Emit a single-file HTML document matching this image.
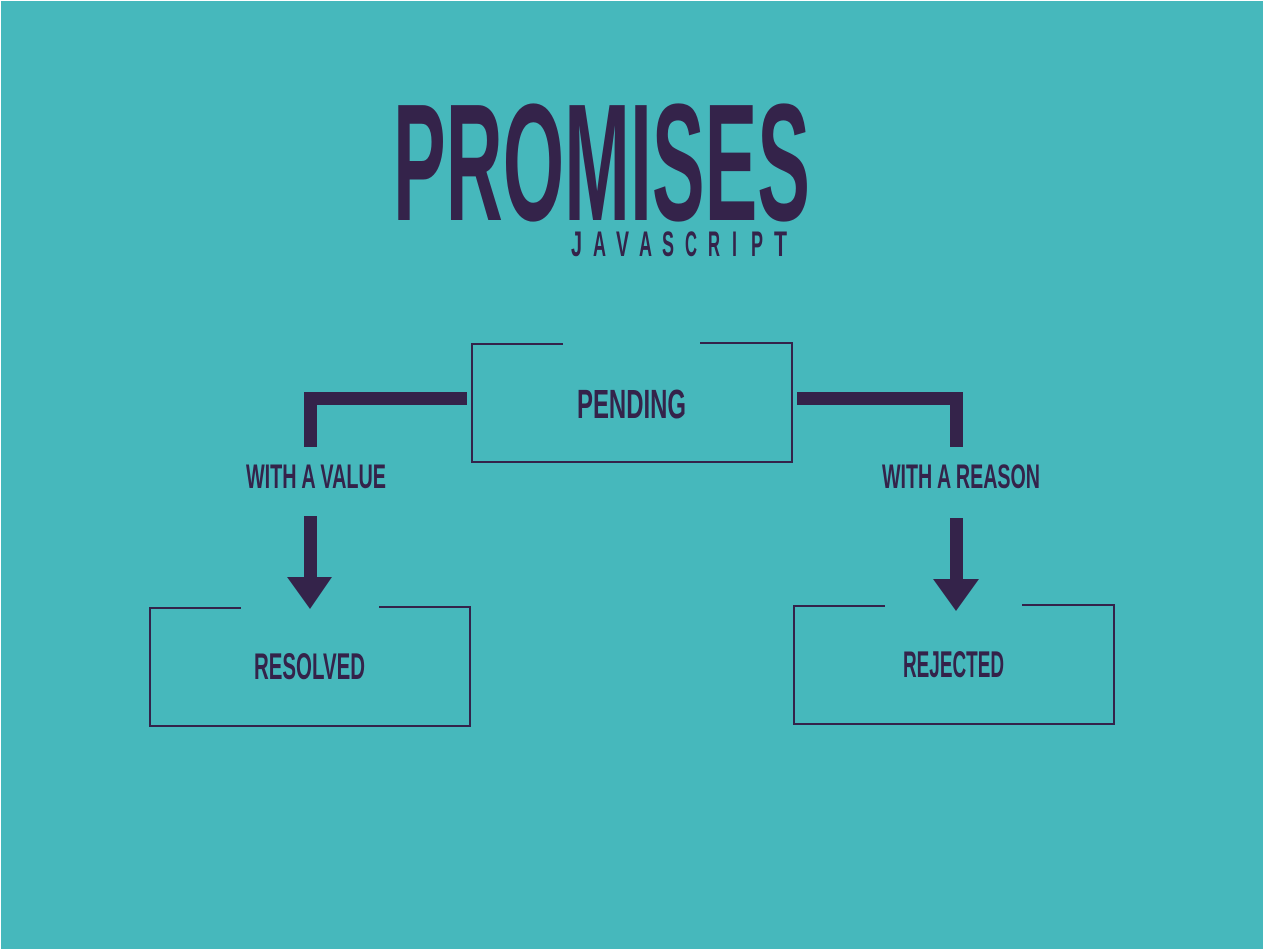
<!DOCTYPE html>
<html><head><meta charset="utf-8"><style>
html,body{margin:0;padding:0;background:#fff;}
svg{display:block;}
text{font-family:"Liberation Sans",sans-serif;font-weight:bold;fill:#34234a;}
</style></head><body>
<svg width="1264" height="950" viewBox="0 0 1264 950" xmlns="http://www.w3.org/2000/svg">
<rect x="1" y="1" width="1262" height="948" fill="#46b8bc"/>
<text x="393" y="220" font-size="167" textLength="417" lengthAdjust="spacingAndGlyphs">PROMISES</text>
<g font-size="35">
<text x="571" y="256" textLength="11" lengthAdjust="spacingAndGlyphs">J</text>
<text x="593" y="256" textLength="13" lengthAdjust="spacingAndGlyphs">A</text>
<text x="616" y="256" textLength="13" lengthAdjust="spacingAndGlyphs">V</text>
<text x="639" y="256" textLength="13" lengthAdjust="spacingAndGlyphs">A</text>
<text x="662" y="256" textLength="12" lengthAdjust="spacingAndGlyphs">S</text>
<text x="685" y="256" textLength="12" lengthAdjust="spacingAndGlyphs">C</text>
<text x="708" y="256" textLength="12" lengthAdjust="spacingAndGlyphs">R</text>
<text x="732" y="256" textLength="5" lengthAdjust="spacingAndGlyphs">I</text>
<text x="751" y="256" textLength="12" lengthAdjust="spacingAndGlyphs">P</text>
<text x="774" y="256" textLength="13" lengthAdjust="spacingAndGlyphs">T</text>
</g>
<g fill="none" stroke="#34234a" stroke-width="2">
<path d="M563 344 H472 V462 H792 V343 H700"/>
<path d="M241 608 H150 V726 H470 V607 H379"/>
<path d="M885 606 H794 V724 H1114 V605 H1022"/>
</g>
<g fill="#34234a">
<rect x="304" y="392" width="163" height="13"/>
<rect x="304" y="392" width="13" height="55"/>
<rect x="797" y="392" width="166" height="13"/>
<rect x="950" y="392" width="13" height="55"/>
<rect x="304" y="516" width="13" height="62"/>
<polygon points="287,577 332,577 310,609"/>
<rect x="950" y="518" width="13" height="62"/>
<polygon points="933,579 979,579 956,611"/>
</g>
<text x="577" y="418" font-size="41" textLength="109" lengthAdjust="spacingAndGlyphs">PENDING</text>
<text x="246" y="488" font-size="34" textLength="140" lengthAdjust="spacingAndGlyphs">WITH A VALUE</text>
<text x="882" y="488" font-size="34" textLength="158" lengthAdjust="spacingAndGlyphs">WITH A REASON</text>
<text x="254" y="679" font-size="37" textLength="111" lengthAdjust="spacingAndGlyphs">RESOLVED</text>
<text x="903" y="677" font-size="37" textLength="101" lengthAdjust="spacingAndGlyphs">REJECTED</text>
</svg>
</body></html>
